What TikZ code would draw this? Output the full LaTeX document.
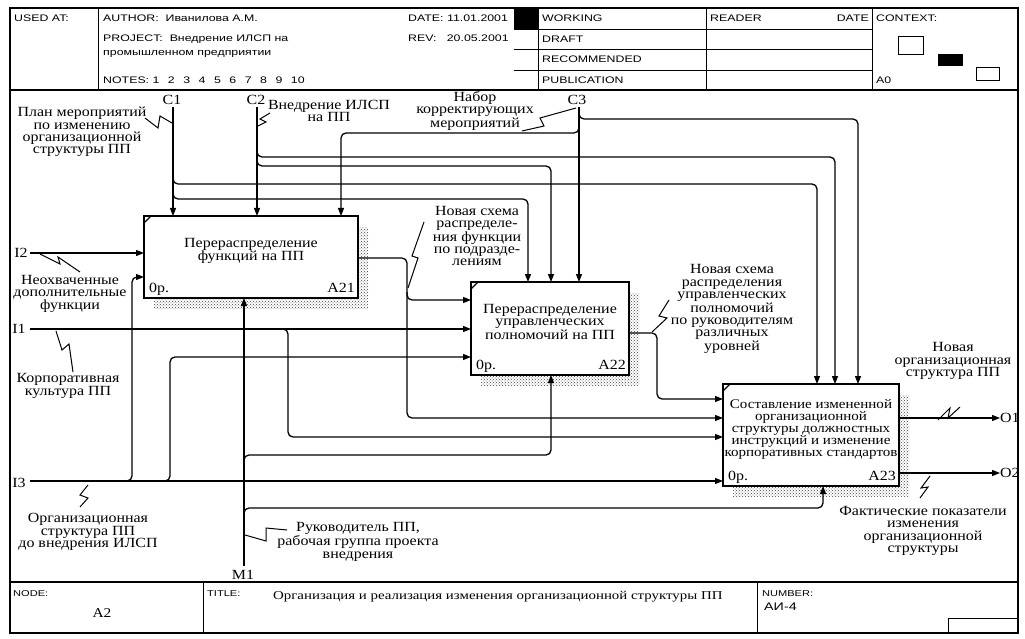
\documentclass[tikz,border=0pt]{standalone}
\usepackage{fontspec}
\setmainfont{Liberation Serif}[FakeStretch=1.14]
\newfontfamily\hdrfont{Liberation Sans}[FakeStretch=1.3]
\newfontfamily\ttlfont{Liberation Serif}[FakeStretch=1.24]
\usetikzlibrary{arrows.meta,patterns,calc}
\begin{document}
\begin{tikzpicture}[x=1pt,y=-1pt,
  lbl/.style={font=\fontsize{14}{12.4}\selectfont, align=center, inner sep=0pt},
  hdr/.style={font=\hdrfont\fontsize{9.5}{11}\selectfont, anchor=base west, inner sep=0pt},
  ftr/.style={font=\hdrfont\fontsize{8.5}{10}\selectfont, anchor=base west, inner sep=0pt},
  frm/.style={line width=1.2pt},
  thinl/.style={line width=0.9pt},
  fn/.style={draw, line width=2.6pt, fill=white, inner sep=0pt, outer sep=0pt, anchor=north west},
  shd/.style={pattern=crosshatch dots, pattern color=black!75},
  arr/.style={-{Triangle[length=8pt,width=6pt]}, line width=1.3pt},
  rc/.style={rounded corners=5pt},
  sq/.style={line width=1pt},
  cmark/.style={line width=1.2pt}
]
\useasboundingbox (0,0) rectangle (1025,639);
\fill[white] (0,0) rectangle (1025,639);

% ---------- frame ----------
\draw[frm] (10,8) rectangle (1018,633);
\draw[frm] (10,90) -- (1018,90);
\draw[frm] (10,582) -- (1018,582);
% header grid
\draw[thinl] (98,8) -- (98,90);
\draw[thinl] (538,8) -- (538,90);
\draw[thinl] (706,8) -- (706,90);
\draw[thinl] (872,8) -- (872,90);
\draw[thinl] (514,29) -- (872,29);
\draw[thinl] (514,49) -- (872,49);
\draw[thinl] (514,70) -- (872,70);
\fill[black] (514,8) rectangle (538,29);
% context
\draw[thinl] (898,36) rectangle (923,54);
\fill[black] (938,54) rectangle (963,66);
\draw[thinl] (976,67) rectangle (999,80);
% footer grid
\draw[thinl] (203,582) -- (203,633);
\draw[thinl] (757,582) -- (757,633);
\draw[thinl] (948,633) -- (948,618) -- (1018,618);

% ---------- header texts ----------
\node[hdr] (usedat) at (14,21.5) {USED AT:};
\node[hdr] (author) at (103,21.5) {AUTHOR:\ \ Иванилова А.М.};
\node[hdr] (project) at (103,41.5) {PROJECT:\ \ Внедрение ИЛСП на};
\node[hdr] (project2) at (103,56) {промышленном предприятии};
\node[hdr] (notes) at (103,83.5) {NOTES:\ 1\hspace{8.5pt}2\hspace{8.5pt}3\hspace{8.5pt}4\hspace{8.5pt}5\hspace{8.5pt}6\hspace{8.5pt}7\hspace{8.5pt}8\hspace{8.5pt}9\hspace{8.5pt}10};
\node[hdr] (date) at (408,21.5) {DATE: 11.01.2001};
\node[hdr] (rev) at (408,41.5) {REV:\ \ \ 20.05.2001};
\node[hdr] (working) at (542,21.5) {WORKING};
\node[hdr] (draft) at (542,42.5) {DRAFT};
\node[hdr] (recom) at (542,62.5) {RECOMMENDED};
\node[hdr] (publ) at (542,83.5) {PUBLICATION};
\node[hdr] (reader) at (710,21.5) {READER};
\node[hdr, anchor=base east] (rdate) at (869,21.5) {DATE};
\node[hdr] (context) at (876,21.5) {CONTEXT:};
\node[hdr] (a0) at (876,84) {A0};

% ---------- footer texts ----------
\node[ftr] (nodelbl) at (13,596) {NODE:};
\node[ftr] (titlelbl) at (207,596) {TITLE:};
\node[ftr] (numlbl) at (762,596) {NUMBER:};
\node[font=\ttlfont\fontsize{12}{14}\selectfont, anchor=west, inner sep=0pt] (title) at (273,597) {Организация и реализация изменения организационной структуры ПП};
\node[font=\fontsize{13.5}{16}\selectfont, inner sep=0pt] (nodeA2) at (102,613) {A2};
\node[font=\hdrfont\fontsize{11}{13}\selectfont, anchor=west, inner sep=0pt] (numval) at (764,607) {АИ-4};

% ---------- shadows ----------
\fill[shd] (154,227) rectangle (368,308);
\fill[shd] (481,293) rectangle (639,385);
\fill[shd] (733,395) rectangle (909,496);

% ---------- function boxes ----------
\node[fn, minimum width=214pt, minimum height=82pt] (A21) at (144,216) {};
\node[fn, minimum width=158pt, minimum height=93pt] (A22) at (471,282) {};
\node[fn, minimum width=176pt, minimum height=102pt] (A23) at (723,384) {};
\draw[cmark] ($(A21.north west)+(0,7)$) -- ($(A21.north west)+(7,0)$);
\draw[cmark] ($(A22.north west)+(0,7)$) -- ($(A22.north west)+(7,0)$);
\draw[cmark] ($(A23.north west)+(0,7)$) -- ($(A23.north west)+(7,0)$);

\node[lbl] (t21) at (251,251) {Перераспределение\\функций на ПП};
\node[lbl] (t22) at (550,322) {Перераспределение\\управленческих\\полномочий на ПП};
\node[lbl, font=\fontsize{13.2}{12}\selectfont] (t23) at (811,429) {Составление измененной\\организационной\\структуры должностных\\инструкций и изменение\\корпоративных стандартов};

\node[lbl, anchor=base west] (o21) at (149,292) {0р.};
\node[lbl, anchor=base east] (n21) at (355,292) {A21};
\node[lbl, anchor=base west] (o22) at (476,369) {0р.};
\node[lbl, anchor=base east] (n22) at (626,369) {A22};
\node[lbl, anchor=base west] (o23) at (728,480) {0р.};
\node[lbl, anchor=base east] (n23) at (896,480) {A23};

% ---------- boundary labels ----------
\node[lbl] (lC1) at (172,100) {C1};
\node[lbl] (lC2) at (256,100) {C2};
\node[lbl] (lC3) at (577,100) {C3};
\node[lbl] (lI2) at (21,253) {I2};
\node[lbl] (lI1) at (19,329) {I1};
\node[lbl] (lI3) at (19,483) {I3};
\node[lbl] (lM1) at (243,575) {M1};
\node[lbl, anchor=west] (lO1) at (1000,418) {O1};
\node[lbl, anchor=west] (lO2) at (1000,473) {O2};

\coordinate (C1) at (173,107);
\coordinate (C2) at (257,107);
\coordinate (C3) at (579,107);
\coordinate (I1) at (30,329);
\coordinate (I2) at (30,253);
\coordinate (I3) at (30,481);
\coordinate (M1) at (244,566);
\coordinate (O1) at (1000,418);
\coordinate (O2) at (1000,473);

% ---------- controls ----------
\draw[arr] (C1) -- ($(A21.north west)+(29,0)$);
\draw[arr,rc] (173,176) -- (173,184) -- (817,184) -- ($(A23.north west)+(94,0)$);
\draw[arr,rc] (173,191) -- (173,199) -- (528,199) -- ($(A22.north west)+(57,0)$);
\draw[arr] (C2) -- ($(A21.north west)+(113,0)$);
\draw[arr,rc] (257,149) -- (257,157) -- (835,157) -- ($(A23.north west)+(112,0)$);
\draw[arr,rc] (257,158) -- (257,166) -- (551,166) -- ($(A22.north west)+(80,0)$);
\draw[arr] (C3) -- ($(A22.north west)+(108,0)$);
\draw[arr,rc] (579,111) -- (579,119) -- (858,119) -- ($(A23.north west)+(135,0)$);
\draw[arr,rc] (579,125) -- (579,133) -- (341,133) -- ($(A21.north west)+(197,0)$);

% ---------- inputs ----------
\draw[arr] (I2) -- ($(A21.north west)+(0,37)$);
\draw[arr] (I1) -- ($(A22.north west)+(0,47)$);
\draw[arr] (I3) -- ($(A23.north west)+(0,97)$);
\draw[arr,rc] (124,481) -- (132,481) -- (132,277) -- ($(A21.north west)+(0,61)$);
\draw[arr,rc] (162,481) -- (170,481) -- (170,357) -- ($(A22.north west)+(0,75)$);
\draw[arr,rc] (280,329) -- (288,329) -- (288,437) -- ($(A23.north west)+(0,53)$);

% ---------- internal flows ----------
\draw[arr,rc] ($(A21.north east)+(0,42)$) -- (407,258) -- (407,300) -- ($(A22.north west)+(0,18)$);
\draw[arr,rc] (407,292) -- (407,418) -- ($(A23.north west)+(0,34)$);
\draw[arr,rc] ($(A22.north east)+(0,51)$) -- (657,333) -- (657,399) -- ($(A23.north west)+(0,15)$);

% ---------- mechanisms ----------
\draw[arr] (M1) -- ($(A21.south west)+(100,0)$);
\draw[arr,rc] (244,463) -- (244,455) -- (551,455) -- ($(A22.south west)+(80,0)$);
\draw[arr,rc] (244,516) -- (244,508) -- (823,508) -- ($(A23.south west)+(100,0)$);

% ---------- outputs ----------
\draw[arr] ($(A23.north east)+(0,34)$) -- (O1);
\draw[arr] ($(A23.north east)+(0,89)$) -- (O2);

% ---------- arrow labels ----------
\node[lbl] (tC1) at (82,132) {План мероприятий\\по изменению\\организационной\\структуры ПП};
\node[lbl] (tC2) at (329,111) {Внедрение ИЛСП\\на ПП};
\node[lbl] (tC3) at (475,111) {Набор\\корректирующих\\мероприятий};
\node[lbl] (tI2) at (70,294) {Неохваченные\\дополнительные\\функции};
\node[lbl] (tI1) at (68,386) {Корпоративная\\культура ПП};
\node[lbl] (tI3) at (88,532) {Организационная\\структура ПП\\до внедрения ИЛСП};
\node[lbl] (tF1) at (477,236) {Новая схема\\распределе-\\ния функции\\по подразде-\\лениям};
\node[lbl] (tF2) at (732,309) {Новая схема\\распределения\\управленческих\\полномочий\\по руководителям\\различных\\уровней};
\node[lbl] (tM1) at (358,542) {Руководитель ПП,\\рабочая группа проекта\\внедрения};
\node[lbl] (tO1) at (953,361) {Новая\\организационная\\структура ПП};
\node[lbl] (tO2) at (923,531) {Фактические показатели\\изменения\\организационной\\структуры};

% ---------- squiggles ----------
\draw[sq] (145,118) -- (158,128) -- (160,116) -- (172,123);
\draw[sq] (258,126) -- (266,122) -- (260,119) -- (270,113);
\draw[sq] (522,131) -- (544,126) -- (540,118) -- (576,108);
\draw[sq] (40,254) -- (60,264) -- (58,257) -- (80,272);
\draw[sq] (56,331) -- (62,350) -- (69,344) -- (73,372);
\draw[sq] (88,485) -- (80,495) -- (88,498) -- (80,507);
\draw[sq] (408,288) -- (418,258) -- (412,256) -- (424,222);
\draw[sq] (652,332) -- (667,318) -- (659,316) -- (669,300);
\draw[sq] (245,535) -- (266,541) -- (266,528) -- (287,530);
\draw[sq] (938,420) -- (950,408) -- (948,418) -- (960,407);
\draw[sq] (930,476) -- (921,488) -- (928,487) -- (920,498);
\end{tikzpicture}
\end{document}
